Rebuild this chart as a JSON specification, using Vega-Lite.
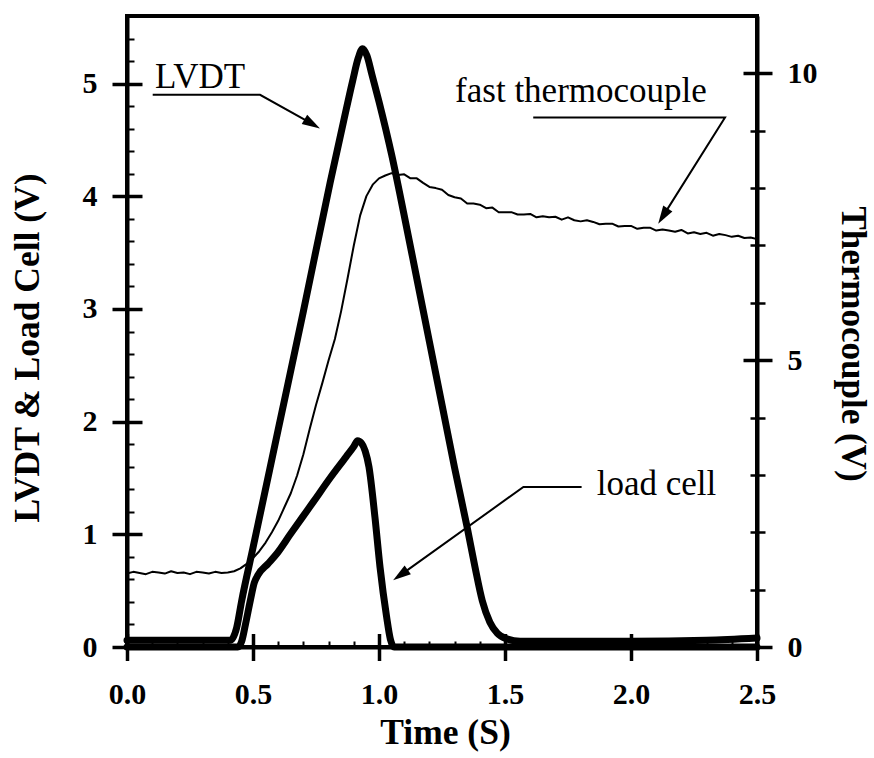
{
  "$schema": "https://vega.github.io/schema/vega-lite/v6.json",
  "width": 630,
  "height": 631,
  "autosize": {"type": "none"},
  "padding": {"left": 127, "top": 16, "right": 117, "bottom": 111},
  "background": "white",
  "config": {
    "view": {"stroke": "black", "strokeWidth": 4},
    "style": {
      "guide-label": {"font": "Liberation Serif", "fontWeight": "bold", "fontSize": 30, "fill": "black"},
      "guide-title": {"font": "Liberation Serif", "fontWeight": "bold", "fontSize": 35.5, "fill": "black"}
    },
    "axis": {
      "labelFont": "Liberation Serif",
      "labelFontWeight": "bold",
      "labelFontSize": 30,
      "labelColor": "black",
      "titleFont": "Liberation Serif",
      "titleFontWeight": "bold",
      "titleFontSize": 35.5,
      "titleColor": "black",
      "domainColor": "black",
      "tickColor": "black",
      "grid": false,
      "labelFlush": false,
      "labelOverlap": false,
      "labelBound": false
    }
  },
  "datasets": {
    "main": [
      {"s": "LVDT", "t": 0.0, "v": 0.06},
      {"s": "LVDT", "t": 0.41, "v": 0.06},
      {"s": "LVDT", "t": 0.435, "v": 0.17},
      {"s": "LVDT", "t": 0.455, "v": 0.41},
      {"s": "LVDT", "t": 0.5, "v": 0.88},
      {"s": "LVDT", "t": 0.6, "v": 1.93},
      {"s": "LVDT", "t": 0.7, "v": 2.98},
      {"s": "LVDT", "t": 0.806, "v": 4.12},
      {"s": "LVDT", "t": 0.86, "v": 4.67},
      {"s": "LVDT", "t": 0.895, "v": 5.02},
      {"s": "LVDT", "t": 0.918, "v": 5.23},
      {"s": "LVDT", "t": 0.935, "v": 5.31},
      {"s": "LVDT", "t": 0.952, "v": 5.25},
      {"s": "LVDT", "t": 0.972, "v": 5.08},
      {"s": "LVDT", "t": 1.0, "v": 4.84},
      {"s": "LVDT", "t": 1.05, "v": 4.37},
      {"s": "LVDT", "t": 1.1, "v": 3.83},
      {"s": "LVDT", "t": 1.15, "v": 3.27},
      {"s": "LVDT", "t": 1.2, "v": 2.71},
      {"s": "LVDT", "t": 1.25, "v": 2.15},
      {"s": "LVDT", "t": 1.3, "v": 1.59},
      {"s": "LVDT", "t": 1.35, "v": 1.06},
      {"s": "LVDT", "t": 1.38, "v": 0.72},
      {"s": "LVDT", "t": 1.41, "v": 0.41},
      {"s": "LVDT", "t": 1.44, "v": 0.22},
      {"s": "LVDT", "t": 1.47, "v": 0.12},
      {"s": "LVDT", "t": 1.51, "v": 0.07},
      {"s": "LVDT", "t": 1.56, "v": 0.05},
      {"s": "LVDT", "t": 2.0, "v": 0.05},
      {"s": "LVDT", "t": 2.3, "v": 0.06},
      {"s": "LVDT", "t": 2.5, "v": 0.08},
      {"s": "load cell", "t": 0.0, "v": 0.0},
      {"s": "load cell", "t": 0.44, "v": 0.0},
      {"s": "load cell", "t": 0.455, "v": 0.05},
      {"s": "load cell", "t": 0.47, "v": 0.2},
      {"s": "load cell", "t": 0.49, "v": 0.42},
      {"s": "load cell", "t": 0.505, "v": 0.57},
      {"s": "load cell", "t": 0.52, "v": 0.64},
      {"s": "load cell", "t": 0.56, "v": 0.74},
      {"s": "load cell", "t": 0.595, "v": 0.83},
      {"s": "load cell", "t": 0.648, "v": 1.0},
      {"s": "load cell", "t": 0.74, "v": 1.29},
      {"s": "load cell", "t": 0.806, "v": 1.5},
      {"s": "load cell", "t": 0.87, "v": 1.69},
      {"s": "load cell", "t": 0.9, "v": 1.78},
      {"s": "load cell", "t": 0.915, "v": 1.83},
      {"s": "load cell", "t": 0.93, "v": 1.81},
      {"s": "load cell", "t": 0.945, "v": 1.74},
      {"s": "load cell", "t": 0.96, "v": 1.6},
      {"s": "load cell", "t": 0.984, "v": 1.15},
      {"s": "load cell", "t": 1.004, "v": 0.71},
      {"s": "load cell", "t": 1.03, "v": 0.27},
      {"s": "load cell", "t": 1.045, "v": 0.07},
      {"s": "load cell", "t": 1.06, "v": 0.0},
      {"s": "load cell", "t": 2.5, "v": 0.0}
    ],
    "thermo": [
      {"t": 0.0, "r": 1.28}, {"t": 0.025, "r": 1.31}, {"t": 0.05, "r": 1.29}, {"t": 0.075, "r": 1.27},
      {"t": 0.1, "r": 1.31}, {"t": 0.125, "r": 1.3}, {"t": 0.15, "r": 1.28}, {"t": 0.175, "r": 1.32},
      {"t": 0.2, "r": 1.29}, {"t": 0.225, "r": 1.3}, {"t": 0.25, "r": 1.27}, {"t": 0.275, "r": 1.31},
      {"t": 0.3, "r": 1.3}, {"t": 0.325, "r": 1.28}, {"t": 0.35, "r": 1.31}, {"t": 0.375, "r": 1.29},
      {"t": 0.4, "r": 1.3}, {"t": 0.425, "r": 1.32}, {"t": 0.45, "r": 1.37}, {"t": 0.475, "r": 1.45},
      {"t": 0.5, "r": 1.55}, {"t": 0.525, "r": 1.67}, {"t": 0.55, "r": 1.82}, {"t": 0.575, "r": 2.0},
      {"t": 0.6, "r": 2.2}, {"t": 0.625, "r": 2.44}, {"t": 0.65, "r": 2.68}, {"t": 0.675, "r": 2.99},
      {"t": 0.7, "r": 3.36}, {"t": 0.725, "r": 3.8}, {"t": 0.75, "r": 4.22}, {"t": 0.775, "r": 4.6},
      {"t": 0.8, "r": 5.0}, {"t": 0.825, "r": 5.37}, {"t": 0.85, "r": 5.86}, {"t": 0.875, "r": 6.42},
      {"t": 0.9, "r": 7.0}, {"t": 0.925, "r": 7.52}, {"t": 0.95, "r": 7.86}, {"t": 0.975, "r": 8.06},
      {"t": 1.0, "r": 8.17}, {"t": 1.025, "r": 8.22}, {"t": 1.05, "r": 8.26}, {"t": 1.075, "r": 8.23},
      {"t": 1.1, "r": 8.24}, {"t": 1.125, "r": 8.17}, {"t": 1.15, "r": 8.17}, {"t": 1.175, "r": 8.09},
      {"t": 1.2, "r": 8.02}, {"t": 1.225, "r": 8.0}, {"t": 1.25, "r": 7.97}, {"t": 1.275, "r": 7.88},
      {"t": 1.3, "r": 7.84}, {"t": 1.325, "r": 7.82}, {"t": 1.35, "r": 7.73}, {"t": 1.375, "r": 7.73},
      {"t": 1.4, "r": 7.71}, {"t": 1.425, "r": 7.65}, {"t": 1.45, "r": 7.66}, {"t": 1.475, "r": 7.58},
      {"t": 1.5, "r": 7.58}, {"t": 1.525, "r": 7.58}, {"t": 1.55, "r": 7.54}, {"t": 1.575, "r": 7.54},
      {"t": 1.6, "r": 7.55}, {"t": 1.625, "r": 7.49}, {"t": 1.65, "r": 7.51}, {"t": 1.675, "r": 7.49},
      {"t": 1.7, "r": 7.5}, {"t": 1.725, "r": 7.45}, {"t": 1.75, "r": 7.49}, {"t": 1.775, "r": 7.44},
      {"t": 1.8, "r": 7.42}, {"t": 1.825, "r": 7.44}, {"t": 1.85, "r": 7.41}, {"t": 1.875, "r": 7.37},
      {"t": 1.9, "r": 7.38}, {"t": 1.925, "r": 7.38}, {"t": 1.95, "r": 7.33}, {"t": 1.975, "r": 7.34},
      {"t": 2.0, "r": 7.34}, {"t": 2.025, "r": 7.29}, {"t": 2.05, "r": 7.31}, {"t": 2.075, "r": 7.31},
      {"t": 2.1, "r": 7.26}, {"t": 2.125, "r": 7.28}, {"t": 2.15, "r": 7.26}, {"t": 2.175, "r": 7.24},
      {"t": 2.2, "r": 7.27}, {"t": 2.225, "r": 7.21}, {"t": 2.25, "r": 7.23}, {"t": 2.275, "r": 7.2},
      {"t": 2.3, "r": 7.22}, {"t": 2.325, "r": 7.17}, {"t": 2.35, "r": 7.2}, {"t": 2.375, "r": 7.18},
      {"t": 2.4, "r": 7.15}, {"t": 2.425, "r": 7.17}, {"t": 2.45, "r": 7.13}, {"t": 2.475, "r": 7.14},
      {"t": 2.5, "r": 7.11}
    ],
    "labels": [
      {"label": "LVDT", "t": 0.111, "v": 4.957},
      {"label": "fast thermocouple", "t": 1.302, "v": 4.84},
      {"label": "load cell", "t": 1.864, "v": 1.346}
    ],
    "arrows": [
      {"a": "LVDT", "o": 1, "t": 0.102, "v": 4.901},
      {"a": "LVDT", "o": 2, "t": 0.528, "v": 4.901},
      {"a": "LVDT", "o": 3, "t": 0.735, "v": 4.642},
      {"a": "thermo", "o": 1, "t": 1.612, "v": 4.7},
      {"a": "thermo", "o": 2, "t": 2.373, "v": 4.7},
      {"a": "thermo", "o": 3, "t": 2.127, "v": 3.824},
      {"a": "load", "o": 1, "t": 1.804, "v": 1.42},
      {"a": "load", "o": 2, "t": 1.573, "v": 1.42},
      {"a": "load", "o": 3, "t": 1.085, "v": 0.638}
    ],
    "heads": [
      {"a": "LVDT", "t": 0.735, "v": 4.642},
      {"a": "thermo", "t": 2.127, "v": 3.824},
      {"a": "load", "t": 1.085, "v": 0.638}
    ]
  },
  "layer": [
    {
      "data": {"name": "main"},
      "mark": {"type": "line", "color": "black", "strokeWidth": 7, "strokeJoin": "round", "strokeCap": "round", "interpolate": "monotone"},
      "encoding": {
        "x": {"field": "t", "type": "quantitative", "scale": {"domain": [0, 2.5], "nice": false},
          "axis": {"orient": "bottom", "values": [0, 0.5, 1, 1.5, 2, 2.5], "format": ".1f", "tickSize": 13.5, "tickWidth": 3.5, "domainWidth": 4, "labelPadding": 19,
            "labelFont": "Liberation Serif", "labelFontWeight": "bold", "labelFontSize": 30,
            "title": "Time (S)", "titleX": 318, "titleY": 96, "titleBaseline": "alphabetic", "titleAlign": "center", "titleAngle": 0}},
        "y": {"field": "v", "type": "quantitative", "scale": {"domain": [0, 5.6], "nice": false},
          "axis": {"orient": "left", "values": [0, 1, 2, 3, 4, 5], "format": "d", "tickSize": 15, "tickWidth": 3.5, "domainWidth": 4, "labelPadding": 15,
            "labelFont": "Liberation Serif", "labelFontWeight": "bold", "labelFontSize": 30,
            "title": "LVDT & Load Cell (V)", "titleAngle": -90, "titleX": -88.5, "titleY": 331.5, "titleBaseline": "alphabetic", "titleAlign": "center"}},
        "detail": {"field": "s", "type": "nominal"}
      }
    },
    {
      "data": {"name": "thermo"},
      "mark": {"type": "line", "color": "black", "strokeWidth": 2, "strokeJoin": "round"},
      "encoding": {
        "x": {"field": "t", "type": "quantitative", "scale": {"domain": [0, 2.5], "nice": false}, "axis": null},
        "y": {"field": "r", "type": "quantitative", "scale": {"domain": [0, 11], "nice": false},
          "axis": {"orient": "right", "values": [0, 5, 10], "format": "d", "tickSize": 15, "tickWidth": 3.5, "domainWidth": 4, "labelPadding": 15,
            "labelFont": "Liberation Serif", "labelFontWeight": "bold", "labelFontSize": 30,
            "title": "Thermocouple (V)", "titleFontSize": 35, "titleAngle": 90, "titleX": 84, "titleY": 327.5, "titleBaseline": "alphabetic", "titleAlign": "center"}}
      }
    },
    {
      "data": {"name": "labels"},
      "mark": {"type": "point", "opacity": 0},
      "encoding": {
        "x": {"field": "t", "type": "quantitative", "scale": {"domain": [0, 2.5], "nice": false},
          "axis": {"orient": "bottom", "values": [0, 0.5, 1, 1.5, 2, 2.5], "tickSize": -13.5, "tickWidth": 3.5, "labels": false, "domain": false, "title": null}},
        "y": {"field": "v", "type": "quantitative", "scale": {"domain": [0, 5.6], "nice": false},
          "axis": {"orient": "left", "values": [0, 1, 2, 3, 4, 5], "tickSize": -15, "tickWidth": 3.5, "labels": false, "domain": false, "title": null}}
      }
    },
    {
      "data": {"name": "labels"},
      "mark": {"type": "point", "opacity": 0},
      "encoding": {
        "x": {"field": "t", "type": "quantitative", "scale": {"domain": [0, 2.5], "nice": false},
          "axis": {"orient": "bottom", "values": [0.1, 0.2, 0.3, 0.4, 0.6, 0.7, 0.8, 0.9, 1.1, 1.2, 1.3, 1.4, 1.6, 1.7, 1.8, 1.9, 2.1, 2.2, 2.3, 2.4], "tickSize": -6, "tickWidth": 2, "labels": false, "domain": false, "title": null}},
        "y": {"field": "v", "type": "quantitative", "scale": {"domain": [0, 5.6], "nice": false},
          "axis": {"orient": "left", "values": [0.2, 0.4, 0.6, 0.8, 1.2, 1.4, 1.6, 1.8, 2.2, 2.4, 2.6, 2.8, 3.2, 3.4, 3.6, 3.8, 4.2, 4.4, 4.6, 4.8, 5.2, 5.4], "tickSize": -7, "tickWidth": 2, "labels": false, "domain": false, "title": null}}
      }
    },
    {
      "data": {"name": "labels"},
      "mark": {"type": "point", "opacity": 0},
      "encoding": {
        "x": {"field": "t", "type": "quantitative", "scale": {"domain": [0, 2.5], "nice": false}, "axis": null},
        "y": {"field": "v", "type": "quantitative", "scale": {"domain": [0, 11], "nice": false},
          "axis": {"orient": "right", "values": [0, 5, 10], "tickSize": -14, "tickWidth": 3.5, "labels": false, "domain": false, "title": null}}
      }
    },
    {
      "data": {"name": "labels"},
      "mark": {"type": "point", "opacity": 0},
      "encoding": {
        "x": {"field": "t", "type": "quantitative", "scale": {"domain": [0, 2.5], "nice": false}, "axis": null},
        "y": {"field": "v", "type": "quantitative", "scale": {"domain": [0, 11], "nice": false},
          "axis": {"orient": "right", "values": [1, 2, 3, 4, 6, 7, 8, 9], "tickSize": 8, "tickWidth": 2.5, "labels": false, "domain": false, "title": null}}
      }
    },
    {
      "data": {"name": "labels"},
      "mark": {"type": "point", "opacity": 0},
      "encoding": {
        "x": {"field": "t", "type": "quantitative", "scale": {"domain": [0, 2.5], "nice": false}, "axis": null},
        "y": {"field": "v", "type": "quantitative", "scale": {"domain": [0, 11], "nice": false},
          "axis": {"orient": "right", "values": [1, 2, 3, 4, 6, 7, 8, 9], "tickSize": -7, "tickWidth": 2.5, "labels": false, "domain": false, "title": null}}
      }
    },
    {
      "data": {"name": "labels"},
      "mark": {"type": "text", "font": "Liberation Serif", "fontSize": 35, "align": "left", "baseline": "alphabetic", "color": "black"},
      "encoding": {
        "x": {"field": "t", "type": "quantitative", "scale": {"domain": [0, 2.5], "nice": false}, "axis": null},
        "y": {"field": "v", "type": "quantitative", "scale": {"domain": [0, 5.6], "nice": false}, "axis": null},
        "text": {"field": "label"}
      }
    },
    {
      "data": {"name": "arrows"},
      "mark": {"type": "line", "color": "black", "strokeWidth": 2},
      "encoding": {
        "x": {"field": "t", "type": "quantitative", "scale": {"domain": [0, 2.5], "nice": false}, "axis": null},
        "y": {"field": "v", "type": "quantitative", "scale": {"domain": [0, 5.6], "nice": false}, "axis": null},
        "detail": {"field": "a", "type": "nominal"},
        "order": {"field": "o", "type": "quantitative"}
      }
    },
    {
      "data": {"name": "heads"},
      "transform": [{"filter": "datum.a === 'LVDT'"}],
      "mark": {"type": "point", "shape": "M1,0L-1,-0.6L-1,0.6Z", "filled": true, "color": "black", "opacity": 1, "size": 324, "angle": 30.4, "strokeWidth": 0},
      "encoding": {
        "x": {"field": "t", "type": "quantitative", "scale": {"domain": [0, 2.5], "nice": false}, "axis": null},
        "y": {"field": "v", "type": "quantitative", "scale": {"domain": [0, 5.6], "nice": false}, "axis": null}
      }
    },
    {
      "data": {"name": "heads"},
      "transform": [{"filter": "datum.a === 'thermo'"}],
      "mark": {"type": "point", "shape": "M1,0L-1,-0.6L-1,0.6Z", "filled": true, "color": "black", "opacity": 1, "size": 324, "angle": 122.3, "strokeWidth": 0},
      "encoding": {
        "x": {"field": "t", "type": "quantitative", "scale": {"domain": [0, 2.5], "nice": false}, "axis": null},
        "y": {"field": "v", "type": "quantitative", "scale": {"domain": [0, 5.6], "nice": false}, "axis": null}
      }
    },
    {
      "data": {"name": "heads"},
      "transform": [{"filter": "datum.a === 'load'"}],
      "mark": {"type": "point", "shape": "M1,0L-1,-0.6L-1,0.6Z", "filled": true, "color": "black", "opacity": 1, "size": 324, "angle": 144.4, "strokeWidth": 0},
      "encoding": {
        "x": {"field": "t", "type": "quantitative", "scale": {"domain": [0, 2.5], "nice": false}, "axis": null},
        "y": {"field": "v", "type": "quantitative", "scale": {"domain": [0, 5.6], "nice": false}, "axis": null}
      }
    }
  ],
  "resolve": {"scale": {"x": "independent", "y": "independent"}, "axis": {"x": "independent", "y": "independent"}}
}
